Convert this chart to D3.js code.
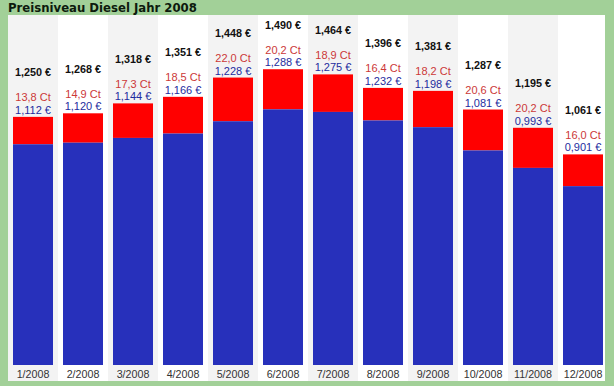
<!DOCTYPE html>
<html><head><meta charset="utf-8">
<script src="https://cdn.jsdelivr.net/npm/d3@7/dist/d3.min.js"></script>
<style>
html,body{margin:0;padding:0;background:#a2d098;}
svg{display:block;}
</style></head>
<body>
<svg id="c" width="614" height="386"></svg>
<script>
const months = ["1/2008","2/2008","3/2008","4/2008","5/2008","6/2008","7/2008","8/2008","9/2008","10/2008","11/2008","12/2008"];
const totalPrice = [1.250,1.268,1.318,1.351,1.448,1.490,1.464,1.396,1.381,1.287,1.195,1.061];
const netPrice = [1.112,1.120,1.144,1.166,1.228,1.288,1.275,1.232,1.198,1.081,0.993,0.901];
const diffCt = [13.8,14.9,17.3,18.5,22.0,20.2,18.9,16.4,18.2,20.6,20.2,16.0];
const title = "Preisniveau Diesel Jahr 2008";

(function(){
const fmt = (v, d) => v.toFixed(d).replace(".", ",");
const svg = d3.select("#c");
const tfont = "Verdana, 'DejaVu Sans', sans-serif";
const font = "Arial, 'Liberation Sans', sans-serif";

svg.append("rect").attr("width",614).attr("height",386).attr("fill","#a2d098");
svg.append("text").attr("x",8).attr("y",12).attr("font-family",tfont).attr("font-weight","bold")
  .attr("font-size","11.7px").attr("fill","#0d1a0d").text(title);

const pL = 8, pR = 605, pT = 15, pB = 381;
svg.append("defs").append("clipPath").attr("id","pa").append("rect")
  .attr("x",pL).attr("y",pT).attr("width",pR-pL).attr("height",pB-pT);
const g = svg.append("g").attr("clip-path","url(#pa)");
g.append("rect").attr("x",pL).attr("y",pT).attr("width",pR-pL).attr("height",pB-pT).attr("fill","#fff");

const xCol = d3.scaleBand().domain(months).range([8,608]).padding(0);
const x = d3.scaleBand().domain(months).range([8,608]).paddingInner(0.2).paddingOuter(0.1);
const y = d3.scaleLinear().domain([0,1.5]).range([365, 365-1.5*198.5]);

const data = months.map((m,i)=>({m, total: totalPrice[i], net: netPrice[i], ct: diffCt[i], i}));

g.selectAll("rect.col").data(data).join("rect").attr("class","col")
  .attr("x",d=>xCol(d.m)).attr("y",pT).attr("width",xCol.bandwidth()).attr("height",pB-pT)
  .attr("fill",d=>d.i%2===0?"#f3f3f3":"#ffffff");

g.selectAll("rect.red").data(data).join("rect").attr("class","red")
  .attr("x",d=>x(d.m)).attr("y",d=>y(d.total)).attr("width",x.bandwidth())
  .attr("height",d=>y(d.net)-y(d.total)).attr("fill","#ff0000");
g.selectAll("rect.blue").data(data).join("rect").attr("class","blue")
  .attr("x",d=>x(d.m)).attr("y",d=>y(d.net)).attr("width",x.bandwidth())
  .attr("height",d=>y(0)-y(d.net)).attr("fill","#2730bb");

const cx = d => x(d.m)+x.bandwidth()/2;
g.selectAll("text.tot").data(data).join("text").attr("class","tot")
  .attr("x",cx).attr("y",d=>y(d.total)-40.5).attr("text-anchor","middle")
  .attr("font-family",font).attr("font-weight","bold").attr("font-size","10.8px").attr("fill","#111")
  .text(d=>fmt(d.total,3)+" €");
g.selectAll("text.ct").data(data).join("text").attr("class","ct")
  .attr("x",cx).attr("y",d=>y(d.total)-15.5).attr("text-anchor","middle")
  .attr("font-family",font).attr("font-size","11px").attr("fill","#cc3838")
  .text(d=>fmt(d.ct,1)+" Ct");
g.selectAll("text.net").data(data).join("text").attr("class","net")
  .attr("x",cx).attr("y",d=>y(d.total)-3).attr("text-anchor","middle")
  .attr("font-family",font).attr("font-size","11px").attr("fill","#1e2c9e")
  .text(d=>fmt(d.net,3)+" €");

const ax = g.append("g").attr("transform","translate(0,365)")
  .call(d3.axisBottom(xCol).tickSize(0).tickPadding(5));
ax.select(".domain").remove();
ax.selectAll("text").attr("font-family",font).attr("font-size","10.7px").attr("fill","#333");
})();
</script>
</body></html>
